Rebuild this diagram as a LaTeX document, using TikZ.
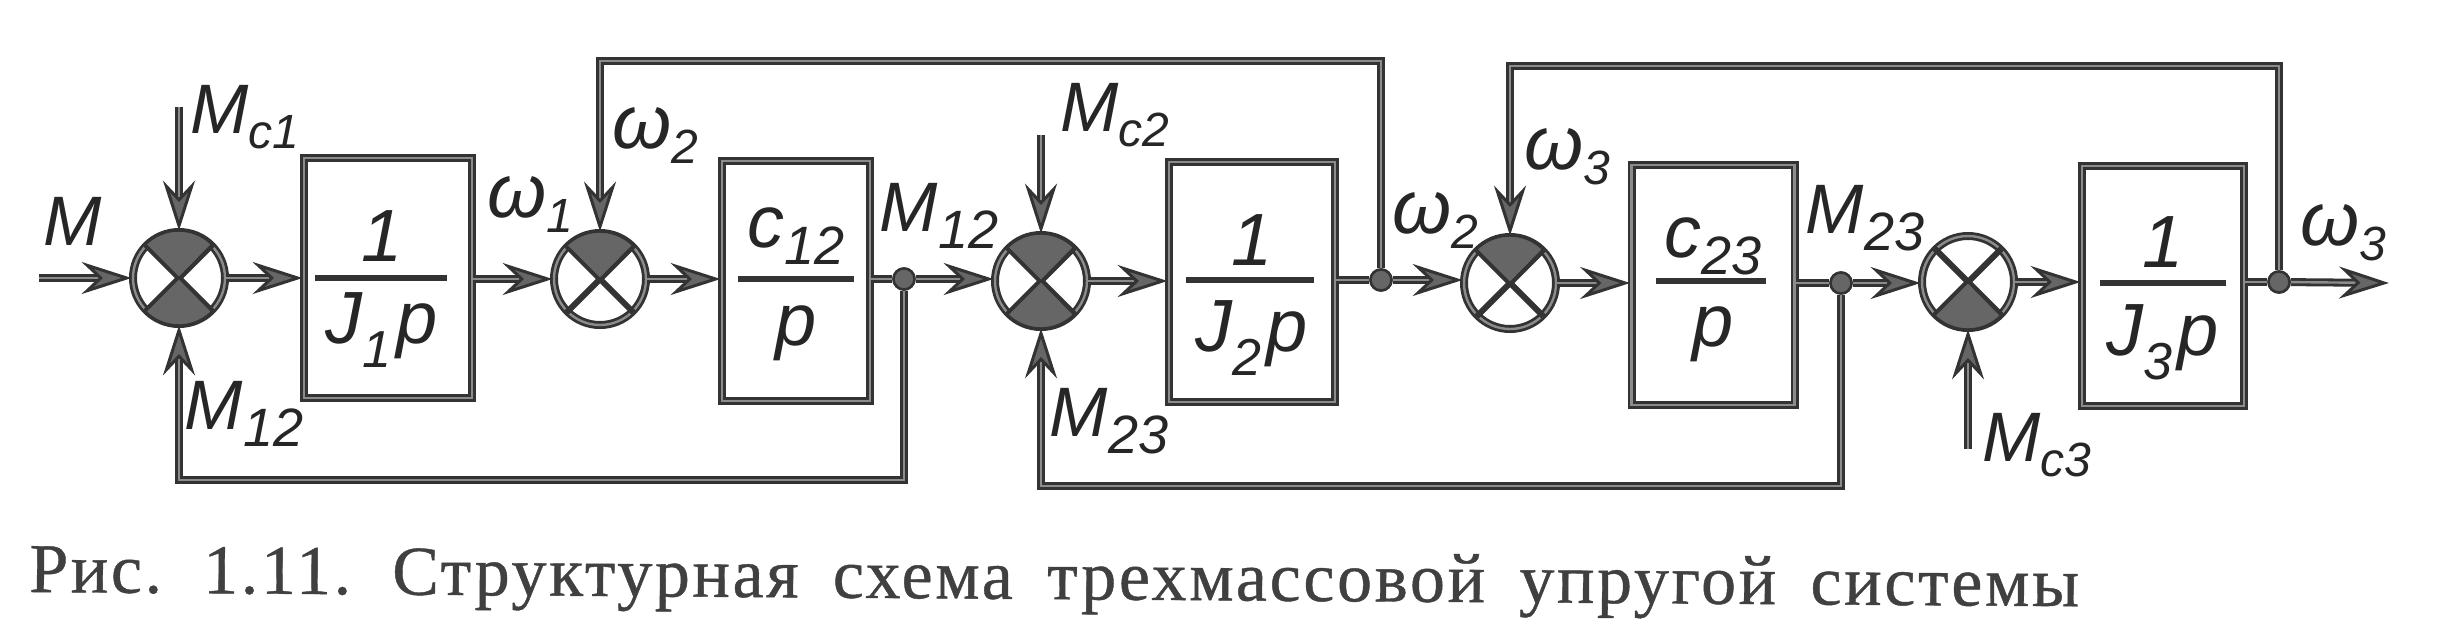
\documentclass[tikz,border=0pt]{standalone}
\usepackage{fontspec}
\setmainfont{Liberation Sans}
\newfontfamily\capfont[LetterSpace=3.8,WordSpace=1.7,FakeBold=0.6]{Liberation Serif}
\usetikzlibrary{arrows.meta}
\definecolor{ink}{HTML}{333333}
\definecolor{speck}{HTML}{666666}
\definecolor{core}{HTML}{8C8C8C}
\newcommand\sbx[1]{\raisebox{-15pt}{\fontsize{48}{48}\selectfont #1}}
\newcommand\sby[1]{\raisebox{-17pt}{\fontsize{54}{54}\selectfont #1}}
\newcommand\sbd[1]{\raisebox{-24pt}{\fontsize{52}{52}\selectfont #1}\kern5pt}
\tikzset{
  x=1pt,y=-1pt,
  ln/.style={draw=ink,line width=2.8pt,double=core,double distance=2.4pt,line join=miter},
  conn/.style={ln,-{Stealth[length=50pt,width=32pt,inset=17pt,fill=speck,line width=3pt,color=ink,fill=speck]}},
  blk/.style={ln,minimum width=#1,inner sep=0pt,minimum height=240pt,fill=white},
  sumn/.style={circle,draw=ink,line width=2.8pt,double=core,double distance=2.4pt,minimum size=92pt,inner sep=0pt,fill=white},
  jn/.style={circle,fill=speck,draw=ink,line width=2.5pt,minimum size=21pt,inner sep=0pt},
  wdg/.style={fill=speck,draw=ink,line width=2pt},
  crs/.style={draw=ink,line width=6pt},
  bar/.style={draw=ink,line width=6pt},
  lab/.style={inner sep=0pt,font=\fontsize{70}{70}\selectfont\itshape,text=black!85},
  frc/.style={inner sep=0pt,font=\fontsize{74}{74}\selectfont\itshape,text=black!85},
  om/.style={inner sep=0pt,font=\fontsize{76}{76}\selectfont\itshape,text=black!85},
  captn/.style={inner sep=0pt,anchor=base west,rotate=-0.4,text=black!75,font=\fontsize{70}{70}\selectfont\capfont},
}
\newcommand\topwedge[1]{\path[wdg] (#1.center) -- (#1.135) arc[start angle=135,end angle=45,radius=47pt] -- cycle;}
\newcommand\botwedge[1]{\path[wdg] (#1.center) -- (#1.225) arc[start angle=225,end angle=315,radius=47pt] -- cycle;}
\newcommand\crossx[1]{\draw[crs] (#1.45) -- (#1.225) (#1.135) -- (#1.315);}
\begin{document}
\begin{tikzpicture}
\useasboundingbox[fill=white] (0,0) rectangle (2462,643);
% sums
\node[sumn] (s1) at (179,278) {};
\node[sumn] (s2) at (600,279) {};
\node[sumn] (s3) at (1041,281) {};
\node[sumn] (s4) at (1510,283) {};
\node[sumn] (s5) at (1968,282) {};
\foreach \s in {s1,s2,s3,s4,s5}{\crossx{\s}}
\topwedge{s1}\botwedge{s1}\topwedge{s2}\topwedge{s3}\botwedge{s3}\topwedge{s4}\botwedge{s5}
% blocks
\node[blk=168pt] (b1) at (388,278) {};
\node[blk=148pt] (b2) at (796,281) {};
\node[blk=166pt] (b3) at (1252,282) {};
\node[blk=163pt] (b4) at (1713,285) {};
\node[blk=162pt] (b5) at (2163,286) {};
% junctions and free ends
\node[jn] (j1) at (904,279) {};
\node[jn] (j2) at (1381,280) {};
\node[jn] (j3) at (1841,283) {};
\node[jn] (j4) at (2279,282) {};
\coordinate (inm) at (39,278);
\coordinate (mc1) at (179,107);
\coordinate (mc2) at (1041,135);
\coordinate (mc3) at (1968,449);
\coordinate (out) at (2389,283);
\coordinate (t1) at (0,61);
\coordinate (t2) at (0,66);
\coordinate (f1) at (0,480);
\coordinate (f2) at (0,486);
% forward path
\draw[conn] (inm) -- (s1.west);
\draw[conn] (s1.east) -- (s1.east -| b1.west);
\draw[conn] (b1.east |- s2) -- (s2.west);
\draw[conn] (s2.east) -- (s2.east -| b2.west);
\draw[ln] (b2.east |- j1) -- (j1);
\draw[conn] (j1) -- (s3.west |- j1);
\draw[conn] (s3.east) -- (s3.east -| b3.west);
\draw[ln] (b3.east |- j2) -- (j2);
\draw[conn] (j2) -- (s4.west |- j2);
\draw[conn] (s4.east) -- (s4.east -| b4.west);
\draw[ln] (b4.east |- j3) -- (j3);
\draw[conn] (j3) -- (s5.west |- j3);
\draw[conn] (s5.east) -- (s5.east -| b5.west);
\draw[ln] (b5.east |- j4) -- (j4);
\draw[conn] (j4) -- (out);
% disturbances
\draw[conn] (mc1) -- (s1.north);
\draw[conn] (mc2) -- (s3.north);
\draw[conn] (mc3) -- (s5.south);
% feedback
\draw[conn] (j1) -- (j1 |- f1) -- (s1 |- f1) -- (s1.south);
\draw[conn] (j2) -- (j2 |- t1) -- (s2 |- t1) -- (s2.north);
\draw[conn] (j3) -- (j3 |- f2) -- (s3 |- f2) -- (s3.south);
\draw[conn] (j4) -- (j4 |- t2) -- (s4 |- t2) -- (s4.north);
\node[jn] at (j1) {};\node[jn] at (j2) {};\node[jn] at (j3) {};\node[jn] at (j4) {};
% fraction bars
\draw[bar] (315,278) -- (447,278);
\draw[bar] (738,279) -- (854,279);
\draw[bar] (1186,280) -- (1314,280);
\draw[bar] (1656,281) -- (1766,281);
\draw[bar] (2100,283) -- (2226,283);
% fractions
\node[frc] (n1) at (382,236) {1};
\node[frc] (d1) at (382,330) {J\sbd{1}p};
\node[frc] (n2) at (796,236) {c\sby{12}};
\node[frc] (d2) at (796,333) {p};
\node[frc] (n3) at (1252,240) {1};
\node[frc] (d3) at (1252,338) {J\sbd{2}p};
\node[frc] (n4) at (1713,246) {c\sby{23}};
\node[frc] (d4) at (1713,334) {p};
\node[frc] (n5) at (2163,242) {1};
\node[frc] (d5) at (2163,342) {J\sbd{3}p};
% labels
\node[lab] (lm) at (73,221) {M};
\node[lab] (lmc1) at (245,117) {M\sbx{c1}};
\node[lab] (lm12a) at (244,414) {M\sby{12}};
\node[om] (lw1) at (530,205) {ω\sbx{1}};
\node[om] (lw2a) at (655,136) {ω\sbx{2}};
\node[lab] (lm12b) at (939,216) {M\sby{12}};
\node[lab] (lmc2) at (1115,115) {M\sbx{c2}};
\node[lab] (lm23a) at (1109,421) {M\sby{23}};
\node[om] (lw2b) at (1435,221) {ω\sbx{2}};
\node[om] (lw3a) at (1567,157) {ω\sbx{3}};
\node[lab] (lm23b) at (1865,218) {M\sby{23}};
\node[lab] (lmc3) at (2037,445) {M\sbx{c3}};
\node[om] (lw3b) at (2343,233) {ω\sbx{3}};
% caption
\node[captn] (cap) at (29,592) {Рис. 1.11. Структурная схема трехмассовой упругой системы};
\end{tikzpicture}
\end{document}
